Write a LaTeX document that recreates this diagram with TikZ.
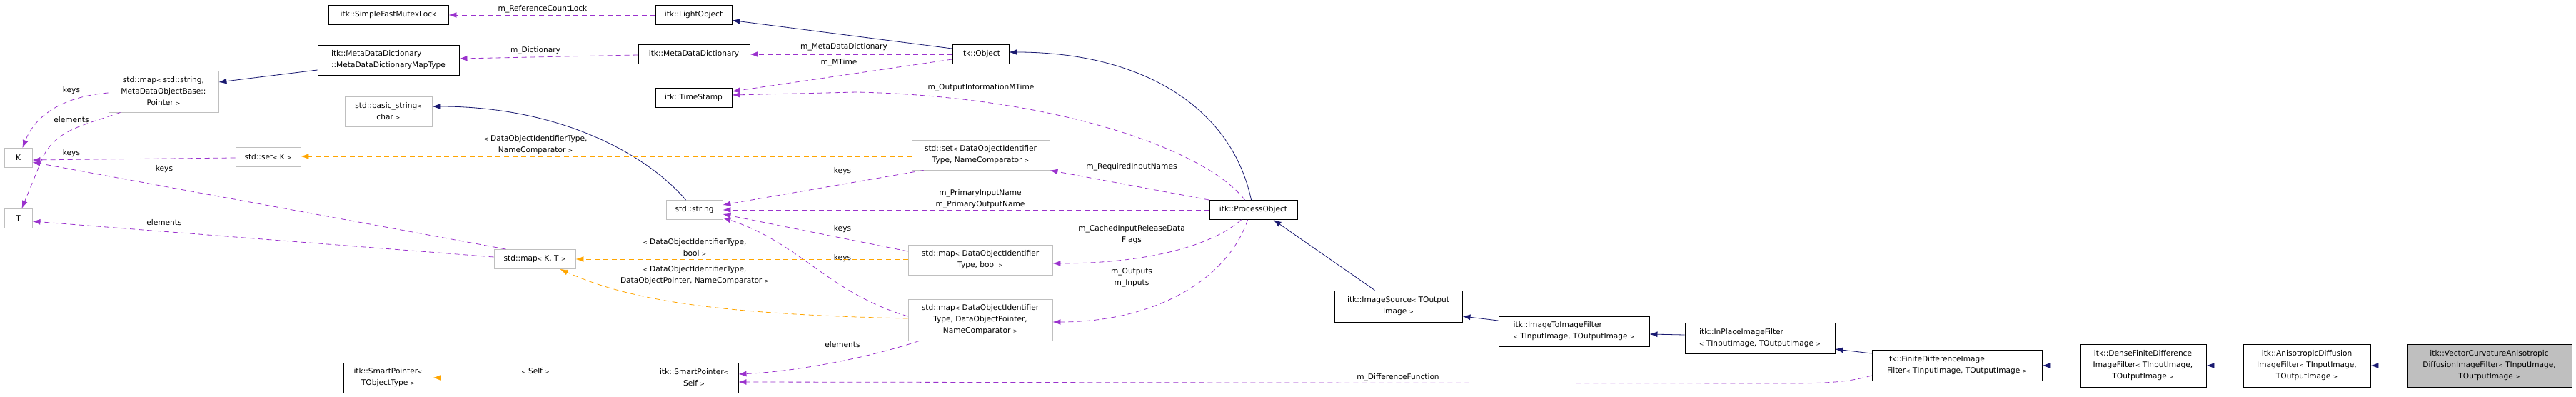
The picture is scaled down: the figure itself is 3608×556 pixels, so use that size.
\documentclass[tikz,border=0pt]{standalone}
\usepackage{fontspec}
\setmainfont{DejaVu Sans}
\usetikzlibrary{arrows.meta}
\definecolor{inhc}{HTML}{191970}
\definecolor{usec}{HTML}{9A32CD}
\definecolor{tplc}{HTML}{FFA500}
\definecolor{grayb}{HTML}{BFBFBF}
\newcommand{\lt}{{\fontsize{7.5}{7}\selectfont<}}
\newcommand{\gt}{{\fontsize{7.5}{7}\selectfont>}}
\begin{document}
\begin{tikzpicture}[x=1pt,y=-1pt,
  box/.style={draw=black,line width=0.9pt,inner sep=0pt,align=center,font=\fontsize{10.6}{16}\selectfont,fill=white},
  gbox/.style={box,draw=grayb},
  lbl/.style={inner sep=0pt,align=center,font=\fontsize{10.6}{16}\selectfont},
  tip/.style={-{Latex[length=11pt,width=8pt]}},
  inh/.style={tip,draw=inhc,line width=0.8pt},
  use/.style={tip,draw=usec,line width=0.8pt,dash pattern=on 7pt off 5pt},
  tpl/.style={tip,draw=tplc,line width=0.8pt,dash pattern=on 7pt off 5pt}]
\useasboundingbox (0,0) rectangle (3608,556);
% nodes
\node[box,minimum width=168,minimum height=27] (SFML) at (544,21) {itk::SimpleFastMutexLock};
\node[box,minimum width=198,minimum height=42,align=left] (MDDM) at (544,84) {itk::MetaDataDictionary\\::MetaDataDictionaryMapType};
\node[gbox,minimum width=154,minimum height=58] (SMS) at (229,128) {std::map\lt{} std::string,\\MetaDataObjectBase::\\Pointer \gt};
\node[gbox,minimum width=122,minimum height=42] (BS) at (544,156) {std::basic\_string\lt\\char \gt};
\node[gbox,minimum width=39,minimum height=27] (K) at (25.5,221) {K};
\node[gbox,minimum width=39,minimum height=27] (T) at (25.5,306) {T};
\node[gbox,minimum width=91,minimum height=27] (SK) at (375.5,220) {std::set\lt{} K \gt};
\node[box,minimum width=125,minimum height=42] (SPT) at (543.5,529) {itk::SmartPointer\lt\\TObjectType \gt};
\node[box,minimum width=107,minimum height=27] (LO) at (971.5,21) {itk::LightObject};
\node[box,minimum width=156,minimum height=27] (MDD) at (972,76) {itk::MetaDataDictionary};
\node[box,minimum width=107,minimum height=27] (TS) at (971.5,137) {itk::TimeStamp};
\node[gbox,minimum width=79,minimum height=27] (STR) at (972.5,294) {std::string};
\node[gbox,minimum width=114,minimum height=27] (MKT) at (749,363) {std::map\lt{} K, T \gt};
\node[box,minimum width=124,minimum height=42] (SPS) at (972,529) {itk::SmartPointer\lt\\Self \gt};
\node[box,minimum width=79,minimum height=27] (OBJ) at (1373.5,76) {itk::Object};
\node[gbox,minimum width=193,minimum height=42] (SDOI) at (1373.5,217) {std::set\lt{} DataObjectIdentifier\\Type, NameComparator \gt};
\node[box,minimum width=123,minimum height=27] (PO) at (1755.5,294) {itk::ProcessObject};
\node[gbox,minimum width=202,minimum height=42] (MB) at (1373,364) {std::map\lt{} DataObjectIdentifier\\Type, bool \gt};
\node[gbox,minimum width=202,minimum height=58] (MP) at (1373,448) {std::map\lt{} DataObjectIdentifier\\Type, DataObjectPointer,\\NameComparator \gt};
\node[box,minimum width=179,minimum height=44] (IS) at (1958.5,429) {itk::ImageSource\lt{} TOutput\\Image \gt};
\node[box,minimum width=211,minimum height=42,align=left] (I2I) at (2204.5,464) {itk::ImageToImageFilter\\\lt{} TInputImage, TOutputImage \gt};
\node[box,minimum width=210,minimum height=43,align=left] (IP) at (2465,473.5) {itk::InPlaceImageFilter\\\lt{} TInputImage, TOutputImage \gt};
\node[box,minimum width=238,minimum height=43,align=left] (FD) at (2741,511.5) {itk::FiniteDifferenceImage\\Filter\lt{} TInputImage, TOutputImage \gt};
\node[box,minimum width=177,minimum height=60] (DF) at (3001.5,512) {itk::DenseFiniteDifference\\ImageFilter\lt{} TInputImage,\\TOutputImage \gt};
\node[box,minimum width=178,minimum height=60] (AD) at (3231,512) {itk::AnisotropicDiffusion\\ImageFilter\lt{} TInputImage,\\TOutputImage \gt};
\node[box,fill=grayb,minimum width=231,minimum height=60] (VC) at (3486.5,512) {itk::VectorCurvatureAnisotropic\\DiffusionImageFilter\lt{} TInputImage,\\TOutputImage \gt};
% inheritance
\draw[inh] (OBJ.west |- 0,68) -- (LO.east |- 0,28.5);
\draw[inh] (MDDM.west |- 0,98) -- (SMS.east |- 0,115);
\draw[inh] ([xshift=-12pt]STR.north) .. controls (910,220) and (790,149) .. (BS.east |- 0,149);
\draw[inh] ([xshift=-3pt]PO.north) .. controls (1725,150) and (1600,73) .. (OBJ.east |- 0,73);
\draw[inh] ([xshift=-33pt]IS.north) -- ([xshift=28pt]PO.south);
\draw[inh] (I2I.west |- 0,449) -- (IS.east |- 0,443);
\draw[inh] (IP.west |- 0,469) -- (I2I.east |- 0,468);
\draw[inh] (FD.west |- 0,495) -- (IP.east |- 0,489);
\draw[inh] (DF.west) -- (FD.east |- 0,512);
\draw[inh] (AD.west) -- (DF.east);
\draw[inh] (VC.west) -- (AD.east);
% usage
\draw[use] (LO.west) -- (SFML.east);
\node[lbl] (l1) at (760,13) {m\_ReferenceCountLock};
\draw[use] (MDD.west |- 0,77) -- (MDDM.east |- 0,82);
\node[lbl] (l2) at (750,71) {m\_Dictionary};
\draw[use] (OBJ.west) -- (MDD.east);
\node[lbl] (l3) at (1182,66) {m\_MetaDataDictionary};
\draw[use] (OBJ.west |- 0,83) -- (TS.east |- 0,128);
\node[lbl] (l4) at (1175,88) {m\_MTime};
\draw[use] ([xshift=-12pt]PO.north) .. controls (1690,210) and (1480,135) .. (1200,129) -- (TS.east |- 0,133);
\node[lbl] (l5) at (1374,123) {m\_OutputInformationMTime};
\draw[use] (PO.north west) -- (SDOI.south east);
\node[lbl] (l6) at (1585,234) {m\_RequiredInputNames};
\draw[use] (PO.west) -- (STR.east);
\node[lbl] (l7) at (1373,279) {m\_PrimaryInputName\\m\_PrimaryOutputName};
\draw[use] ([xshift=-17pt]PO.south) .. controls (1690,350) and (1590,369) .. (MB.east |- 0,369);
\node[lbl] (l8) at (1585,328.5) {m\_CachedInputReleaseData\\Flags};
\draw[use] ([xshift=-8pt]PO.south) .. controls (1720,390) and (1620,451) .. (MP.east |- 0,451);
\node[lbl] (l9) at (1585,388.5) {m\_Outputs\\m\_Inputs};
\draw[use] (FD.west |- 0,526) .. controls (2590,535) and (2560,537) .. (2500,537) -- (SPS.east |- 0,535);
\node[lbl] (l10) at (1958,529) {m\_DifferenceFunction};
\draw[use] ([xshift=17pt]SDOI.south west) -- (STR.east |- 0,287);
\node[lbl] (l11) at (1180,240) {keys};
\draw[use] (MB.west |- 0,352) -- (STR.east |- 0,300);
\node[lbl] (l12) at (1180,321) {keys};
\draw[use] (MP.west |- 0,443) .. controls (1160,410) and (1120,340) .. (STR.east |- 0,305);
\node[lbl] (l13) at (1180,362) {keys};
\draw[use] ([xshift=16pt]MP.south west) .. controls (1220,500) and (1120,520) .. (SPS.east |- 0,524);
\node[lbl] (l14) at (1180,483) {elements};
\draw[use] (SMS.west |- 0,130) .. controls (90,135) and (50,160) .. ([xshift=6pt]K.north);
\node[lbl] (l15) at (100,127) {keys};
\draw[use] ([xshift=17pt]SMS.south west) .. controls (120,175) and (80,180) .. (60,220) -- ([xshift=5pt]T.north);
\node[lbl] (l16) at (100,168) {elements};
\draw[use] (SK.west |- 0,221) -- (K.east |- 0,224);
\node[lbl] (l17) at (100,215) {keys};
\draw[use] ([xshift=17pt]MKT.north west) -- (K.east |- 0,227);
\node[lbl] (l18) at (230,236.5) {keys};
\draw[use] (MKT.west |- 0,360) -- (T.east |- 0,310);
\node[lbl] (l19) at (230,312) {elements};
% template instances
\draw[tpl] (SDOI.west |- 0,219) -- (SK.east |- 0,219);
\node[lbl] (l20) at (750,203) {\lt{} DataObjectIdentifierType,\\NameComparator \gt};
\draw[tpl] (MB.west |- 0,363) -- (MKT.east |- 0,363);
\node[lbl] (l21) at (973,347) {\lt{} DataObjectIdentifierType,\\bool \gt};
\draw[tpl] (MP.west |- 0,446) .. controls (1000,440) and (880,420) .. ([xshift=-22pt]MKT.south east);
\node[lbl] (l22) at (973,386) {\lt{} DataObjectIdentifierType,\\DataObjectPointer, NameComparator \gt};
\draw[tpl] (SPS.west |- 0,529) -- (SPT.east |- 0,529);
\node[lbl] (l23) at (750,520) {\lt{} Self \gt};
\end{tikzpicture}
\end{document}
